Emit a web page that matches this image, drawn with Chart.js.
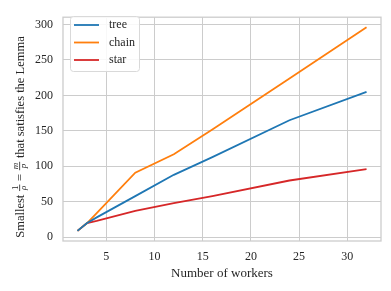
<!DOCTYPE html>
<html>
<head>
<meta charset="utf-8">
<script src="https://cdn.jsdelivr.net/npm/chart.js@4.4.0/dist/chart.umd.min.js"></script>
<style>
html,body{margin:0;padding:0;background:#fff;}
#wrap{width:391px;height:291px;}
</style>
</head>
<body>
<div id="wrap"><canvas id="c" width="391" height="291"></canvas></div>
<script>
const workers = [2, 3, 4, 8, 12, 16, 24, 32];
const treeVals = [9, 20, 28, 58, 88, 113, 165, 205];
const chainVals = [9, 20, 34, 91, 117, 152, 224, 296];
const starVals = [9, 20, 23, 37, 48, 58, 80, 96];
const seriesNames = ['tree', 'chain', 'star'];
const seriesColors = ['#1f77b4', '#ff7f0e', '#d62728'];
const xTicks = [5, 10, 15, 20, 25, 30];
const yTicks = [0, 50, 100, 150, 200, 250, 300];
const xTitle = 'Number of workers';
const yTitleParts = ['Smallest ', {num: '1', den: 'ρ'}, ' = ', {num: 'm', den: 'p'}, ' that satisfies the Lemma'];

const FONT = '"Liberation Serif", "Times New Roman", serif';
const TXT = '#262626';
const GRID = '#cccccc';

const allVals = [treeVals, chainVals, starVals];
const datasets = seriesNames.map((n, i) => ({
  label: n,
  data: workers.map((w, j) => ({x: w, y: allVals[i][j]})),
  borderColor: seriesColors[i],
  backgroundColor: seriesColors[i],
  borderWidth: 1.8,
  pointRadius: 0,
  tension: 0,
  fill: false
}));

const framePlugin = {
  id: 'frame',
  afterDraw(chart) {
    const {ctx, chartArea: a} = chart;
    ctx.save();
    ctx.strokeStyle = GRID;
    ctx.lineWidth = 1.3;
    ctx.strokeRect(a.left, a.top, a.right - a.left, a.bottom - a.top);
    ctx.restore();

    // legend
    const bx = 70, by = 16, bw = 69, bh = 55, r = 3;
    ctx.save();
    ctx.fillStyle = 'rgba(255,255,255,0.85)';
    ctx.strokeStyle = '#d9d9d9';
    ctx.lineWidth = 1;
    ctx.beginPath();
    ctx.roundRect(bx + 0.5, by + 0.5, bw, bh, r);
    ctx.fill();
    ctx.stroke();
    ctx.font = '12px ' + FONT;
    ctx.textBaseline = 'middle';
    ctx.textAlign = 'left';
    chart.data.datasets.forEach((ds, i) => {
      const y = 25 + i * 17.5;
      ctx.strokeStyle = ds.borderColor;
      ctx.lineWidth = 1.8;
      ctx.beginPath();
      ctx.moveTo(74, y);
      ctx.lineTo(99, y);
      ctx.stroke();
      ctx.fillStyle = TXT;
      ctx.fillText(ds.label, 109, y);
    });
    ctx.restore();

    // y title with fractions
    const fs = 12.5, ffs = 9;
    const mainFont = fs + 'px ' + FONT;
    const fracFont = 'italic ' + ffs + 'px ' + FONT;
    ctx.save();
    ctx.fillStyle = TXT;
    const widths = yTitleParts.map(p => {
      if (typeof p === 'string') { ctx.font = mainFont; return ctx.measureText(p).width; }
      ctx.font = (p.num === '1' ? ffs + 'px ' + FONT : fracFont);
      const nw = ctx.measureText(p.num).width;
      ctx.font = fracFont;
      const dw = ctx.measureText(p.den).width;
      return Math.max(nw, dw) + 3;
    });
    const total = widths.reduce((s, v) => s + v, 0);
    ctx.translate(24, 137);
    ctx.rotate(-Math.PI / 2);
    let x = -total / 2;
    ctx.textBaseline = 'alphabetic';
    yTitleParts.forEach((p, i) => {
      const w = widths[i];
      if (typeof p === 'string') {
        ctx.font = mainFont; ctx.textAlign = 'left';
        ctx.fillText(p, x, 0);
      } else {
        const bar = -4.3;
        ctx.fillRect(x + 0.5, bar - 0.4, w - 1, 0.8);
        ctx.textAlign = 'center';
        ctx.font = (p.num === '1' ? ffs + 'px ' + FONT : fracFont);
        ctx.fillText(p.num, x + w / 2, bar - 1.8);
        ctx.font = fracFont;
        ctx.fillText(p.den, x + w / 2, bar + 6.2);
      }
      x += w;
    });
    ctx.restore();
  }
};

new Chart(document.getElementById('c'), {
  type: 'line',
  data: {datasets},
  options: {
    responsive: false,
    animation: false,
    devicePixelRatio: 1,
    layout: {padding: {top: 9, right: 10, left: 0, bottom: 0}},
    plugins: {legend: {display: false}, tooltip: {enabled: false}},
    scales: {
      x: {
        type: 'linear',
        min: 0.5, max: 33.5,
        afterFit(s) { s.height = 50; },
        afterBuildTicks(s) { s.ticks = xTicks.map(v => ({value: v})); },
        grid: {color: GRID, lineWidth: 1, drawTicks: false},
        border: {display: false},
        ticks: {color: TXT, font: {family: FONT, size: 12}, padding: 9, maxRotation: 0},
        title: {display: true, text: xTitle, color: TXT, font: {family: FONT, size: 13}, padding: {top: 0, bottom: 10}}
      },
      y: {
        type: 'linear',
        min: -5.35, max: 310.35,
        afterFit(s) { s.width = 63; },
        afterBuildTicks(s) { s.ticks = yTicks.map(v => ({value: v})); },
        grid: {color: GRID, lineWidth: 1, drawTicks: false},
        border: {display: false},
        ticks: {color: TXT, font: {family: FONT, size: 12}, padding: 10}
      }
    }
  },
  plugins: [framePlugin]
});
</script>
</body>
</html>
